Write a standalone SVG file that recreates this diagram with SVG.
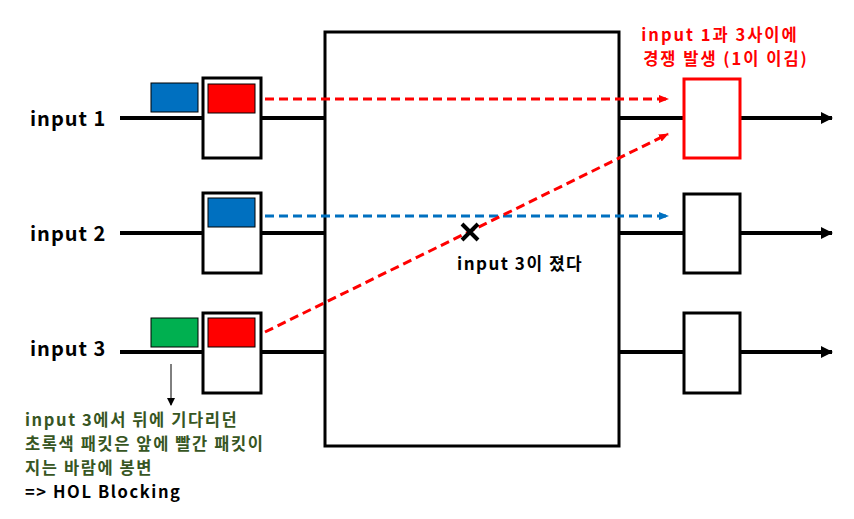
<svg xmlns="http://www.w3.org/2000/svg" width="854" height="519" viewBox="0 0 854 519">
<defs>
<style>
.t{font-family:"Noto Sans CJK KR","Noto Sans",sans-serif;font-weight:bold}
.wire{stroke:#000;stroke-width:4;fill:none}
.box{fill:#fff;stroke:#000;stroke-width:3}
.pk{stroke:#000;stroke-width:1}
</style>
<marker id="ab" markerWidth="8" markerHeight="8" refX="7" refY="4" orient="auto" markerUnits="userSpaceOnUse"><path d="M0,0 L8,4 L0,8 Z" fill="#000"/></marker>
<marker id="abig" markerWidth="12" markerHeight="12" refX="11" refY="6" orient="auto" markerUnits="userSpaceOnUse"><path d="M0,0 L12,6 L0,12 Z" fill="#000"/></marker>
<marker id="ar" markerWidth="10" markerHeight="8" refX="9" refY="4" orient="auto" markerUnits="userSpaceOnUse"><path d="M0,0 L10,4 L0,8 Z" fill="#ff0000"/></marker>
<marker id="abl" markerWidth="10" markerHeight="8" refX="9" refY="4" orient="auto" markerUnits="userSpaceOnUse"><path d="M0,0 L10,4 L0,8 Z" fill="#0070c0"/></marker>
</defs>
<rect width="854" height="519" fill="#fff"/>
<g id="switch"><rect x="325" y="32" width="294" height="414" fill="#fff" stroke="#000" stroke-width="3"/></g>
<g id="input1">
<text class="t" x="30" y="126" font-size="20" letter-spacing="1">input 1</text>
<line class="wire" x1="120" y1="118" x2="325" y2="118"/>
<rect class="box" x="203" y="78" width="58" height="80"/>
<rect class="pk" x="151" y="83" width="47" height="29" fill="#0070c0"/>
<rect class="pk" x="208" y="84" width="47" height="29" fill="#ff0000"/>
</g>
<g id="input2">
<text class="t" x="30" y="241" font-size="20" letter-spacing="1">input 2</text>
<line class="wire" x1="120" y1="233" x2="325" y2="233"/>
<rect class="box" x="203" y="193" width="58" height="80"/>
<rect class="pk" x="208" y="198" width="47" height="29" fill="#0070c0"/>
</g>
<g id="input3">
<text class="t" x="30" y="356" font-size="20" letter-spacing="1">input 3</text>
<line class="wire" x1="120" y1="352" x2="325" y2="352"/>
<rect class="box" x="203" y="313" width="58" height="80"/>
<rect class="pk" x="151" y="318" width="47" height="29" fill="#00b050"/>
<rect class="pk" x="208" y="318" width="47" height="29" fill="#ff0000"/>
</g>
<g id="output1">
<line class="wire" x1="619" y1="118" x2="683" y2="118"/>
<line class="wire" x1="741" y1="118" x2="832" y2="118" marker-end="url(#abig)"/>
<rect x="684" y="79" width="56" height="79" fill="#fff" stroke="#ff0000" stroke-width="3"/>
</g>
<g id="output2">
<line class="wire" x1="619" y1="233" x2="683" y2="233"/>
<line class="wire" x1="741" y1="233" x2="832" y2="233" marker-end="url(#abig)"/>
<rect class="box" x="684" y="194" width="56" height="79"/>
</g>
<g id="output3">
<line class="wire" x1="619" y1="352" x2="683" y2="352"/>
<line class="wire" x1="741" y1="352" x2="832" y2="352" marker-end="url(#abig)"/>
<rect class="box" x="684" y="313" width="56" height="80"/>
</g>
<g id="connectors">
<line x1="265" y1="99" x2="668" y2="99" stroke="#ff0000" stroke-width="3" stroke-dasharray="9,5" marker-end="url(#ar)"/>
<line x1="265" y1="216" x2="668" y2="216" stroke="#0070c0" stroke-width="3" stroke-dasharray="9,5" marker-end="url(#abl)"/>
<line x1="265" y1="332" x2="668" y2="134" stroke="#ff0000" stroke-width="3" stroke-dasharray="9,5" marker-end="url(#ar)"/>
<line x1="171" y1="364" x2="171" y2="405" stroke="#000" stroke-width="1" marker-end="url(#ab)"/>
</g>
<g id="cross">
<path d="M462,224 L478,240 M478,224 L462,240" stroke="#000" stroke-width="4"/>
<text class="t" x="457" y="270" font-size="17" letter-spacing="1.5">input 3이 졌다</text>
</g>
<g id="note-red" font-size="16.5" letter-spacing="2">
<text class="t" x="720" y="41" fill="#ff0000" text-anchor="middle">input 1과 3사이에</text>
<text class="t" x="726" y="65" fill="#ff0000" text-anchor="middle">경쟁 발생 (1이 이김)</text>
</g>
<g id="note-green" font-size="16.5" letter-spacing="1.6">
<text class="t" x="25" y="426" fill="#375623">input 3에서 뒤에 기다리던</text>
<text class="t" x="25" y="450" fill="#375623">초록색 패킷은 앞에 빨간 패킷이</text>
<text class="t" x="25" y="474" fill="#375623">지는 바람에 봉변</text>
<text class="t" x="25" y="498" fill="#000">=&gt; HOL Blocking</text>
</g>
</svg>
